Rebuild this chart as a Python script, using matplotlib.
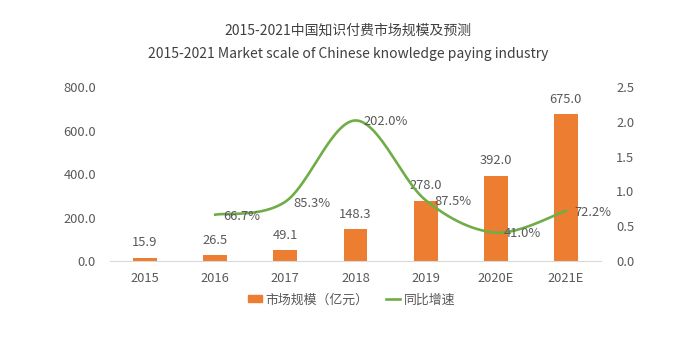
import numpy as np
import matplotlib
matplotlib.use("Agg")
import matplotlib.pyplot as plt
from matplotlib.patches import Patch
from matplotlib.lines import Line2D

plt.rcParams['font.family'] = ['Noto Sans CJK SC', 'DejaVu Sans']

years = ["2015", "2016", "2017", "2018", "2019", "2020E", "2021E"]
market_size = [15.9, 26.5, 49.1, 148.3, 278.0, 392.0, 675.0]
growth_years = ["2016", "2017", "2018", "2019", "2020E", "2021E"]
growth_rate = [0.667, 0.853, 2.020, 0.875, 0.410, 0.722]

BAR = "#ED7D31"
LINE = "#70AD47"
TXT = "#595959"


def smooth_curve(x, y, n=60):
    """Excel-style smoothed line: cubic Bezier segments through each point."""
    x = np.asarray(x, float)
    y = np.asarray(y, float)
    px, py = [], []
    t = np.linspace(0, 1, n)
    for i in range(len(x) - 1):
        x0, y0 = (x[i - 1], y[i - 1]) if i > 0 else (x[i], y[i])
        x3, y3 = (x[i + 2], y[i + 2]) if i + 2 < len(x) else (x[i + 1], y[i + 1])
        p0 = np.array([x[i], y[i]])
        p3 = np.array([x[i + 1], y[i + 1]])
        c1 = p0 + (p3 - np.array([x0, y0])) / 6
        c2 = p3 - (np.array([x3, y3]) - p0) / 6
        b = ((1 - t) ** 3)[:, None] * p0 + (3 * (1 - t) ** 2 * t)[:, None] * c1 \
            + (3 * (1 - t) * t ** 2)[:, None] * c2 + (t ** 3)[:, None] * p3
        px.extend(b[:, 0])
        py.extend(b[:, 1])
    return np.array(px), np.array(py)


fig = plt.figure(figsize=(6.96, 3.40), dpi=100)
ax = fig.add_axes([0.158, 0.232, 0.7055, 0.512])
ax2 = ax.twinx()

xb = np.arange(len(years))
ax.bar(xb, market_size, width=0.34, color=BAR, zorder=2)
for xi, v in zip(xb, market_size):
    ax.annotate(f"{v:.1f}", (xi, v), xytext=(0, 6), textcoords="offset points",
                ha="center", va="bottom", fontsize=9.3, color=TXT)

ax.set_xlim(-0.5, len(years) - 0.5)
ax.set_ylim(0, 800)
ax.set_yticks(np.arange(0, 801, 200))
ax.set_yticklabels([f"{v:.1f}" for v in np.arange(0, 801, 200)])
ax.set_xticks(xb)
ax.set_xticklabels(years)

xg = np.array([years.index(g) for g in growth_years], float)
cx, cy = smooth_curve(xg, growth_rate)
ax2.plot(cx, cy, color=LINE, lw=1.9, zorder=3)
for xi, v in zip(xg, growth_rate):
    ax2.annotate(f"{v * 100:.1f}%", (xi, v), xytext=(6, -1), textcoords="offset points",
                 ha="left", va="center", fontsize=9.3, color=TXT)
ax2.set_ylim(0, 2.5)
ax2.set_yticks(np.arange(0, 2.51, 0.5))
ax2.set_yticklabels([f"{v:.1f}" for v in np.arange(0, 2.51, 0.5)])

for a in (ax, ax2):
    for s in a.spines.values():
        s.set_visible(False)
    a.tick_params(length=0, labelsize=9.3, labelcolor=TXT)
ax.spines["bottom"].set_visible(True)
ax.spines["bottom"].set_color("#D9D9D9")
ax.tick_params(axis="y", pad=10)
ax.tick_params(axis="x", pad=8)
ax2.tick_params(axis="y", pad=11)

fig.text(0.5, 0.91, "2015-2021中国知识付费市场规模及预测", ha="center", va="center",
         fontsize=10, color="#404040")
fig.text(0.5, 0.842, "2015-2021 Market scale of Chinese knowledge paying industry",
         ha="center", va="center", fontsize=10, color="#404040")

handles = [Patch(color=BAR, label="市场规模（亿元）"),
           Line2D([0], [0], color=LINE, lw=1.9, label="同比增速")]
fig.legend(handles=handles, loc="center", bbox_to_anchor=(0.505, 0.118), ncol=2,
           frameon=False, fontsize=9.3, labelcolor=TXT, handlelength=1.1,
           handleheight=0.5, handletextpad=0.3, columnspacing=1.3)

fig.savefig("out.png", dpi=100)
